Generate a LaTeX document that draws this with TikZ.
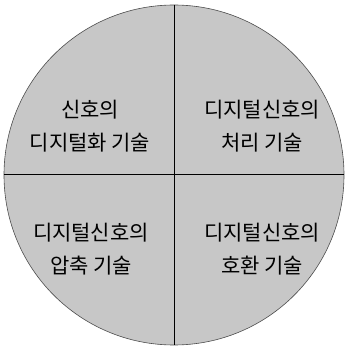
\documentclass[tikz,border=0pt]{standalone}
\usepackage{fontspec}
\newfontfamily\kr{Noto Sans CJK KR}
\begin{document}
\begin{tikzpicture}[x=1pt,y=1pt,
  lbl/.style={font=\kr\fontsize{21}{33}\selectfont, align=center, text=black, inner sep=0pt},
  divider/.style={draw=black, line width=1pt}]
\useasboundingbox (0,0) rectangle (345,346);
\node[circle, minimum size=340pt, inner sep=0pt, fill=black!22, draw=black!70, line width=0.6pt] (c) at (174,171) {};
\draw[divider] (c.north) -- (c.south);
\draw[divider] (c.west) -- (c.east);
\node[lbl] (tl) at (90,220) {신호의\\디지털화 기술};
\node[lbl] (tr) at (262,220) {디지털신호의\\처리 기술};
\node[lbl] (bl) at (91,97) {디지털신호의\\압축 기술};
\node[lbl] (br) at (262,97) {디지털신호의\\호환 기술};
\end{tikzpicture}
\end{document}
